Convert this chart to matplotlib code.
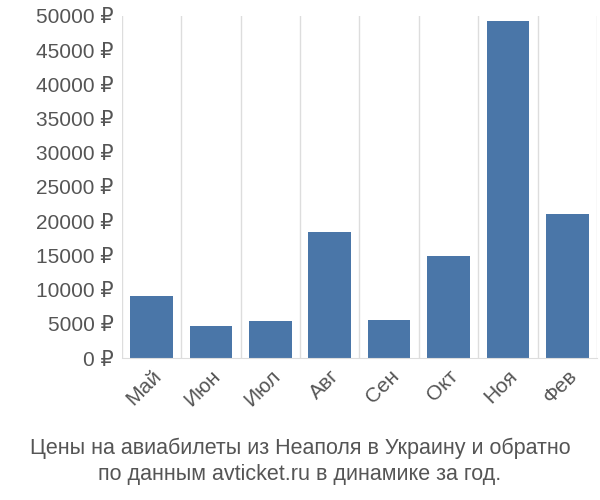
import matplotlib.pyplot as plt
import numpy as np

months = ['Май', 'Июн', 'Июл', 'Авг', 'Сен', 'Окт', 'Ноя', 'Фев']
prices = [9100, 4700, 5400, 18400, 5600, 14900, 49300, 21100]
yticks = list(range(0, 50001, 5000))

plt.rcParams['font.family'] = ['Liberation Sans', 'DejaVu Sans']
fig = plt.figure(figsize=(6, 5), dpi=100)
ax = fig.add_axes([0.203, 0.284, 0.792, 0.684])

x = np.arange(len(months))
ax.bar(x, prices, width=0.72, color='#4a76a8', zorder=2)
ax.set_xlim(-0.5, len(months) - 0.5)
ax.set_ylim(0, 50000)
for b in np.arange(-0.5, len(months), 1.0):
    ax.axvline(b, color='#dddddd', lw=1, zorder=1)
ax.set_yticks(yticks)
ax.set_yticklabels([f'{v} ₽' for v in yticks], fontsize=15, color='#555555')
ax.set_xticks(x)
ax.set_xticklabels(months, rotation=45, ha='right', rotation_mode='anchor',
                   fontsize=15, color='#555555')
for s in ['top', 'right', 'left']:
    ax.spines[s].set_visible(False)
ax.spines['bottom'].set_color('#dddddd')
ax.tick_params(axis='both', length=0, pad=6)

fig.text(0.5, 0.078, 'Цены на авиабилеты из Неаполя в Украину и обратно\nпо данным avticket.ru в динамике за год.',
         ha='center', va='center', fontsize=15.5, color='#555555', linespacing=1.3)
fig.savefig('out.png')
